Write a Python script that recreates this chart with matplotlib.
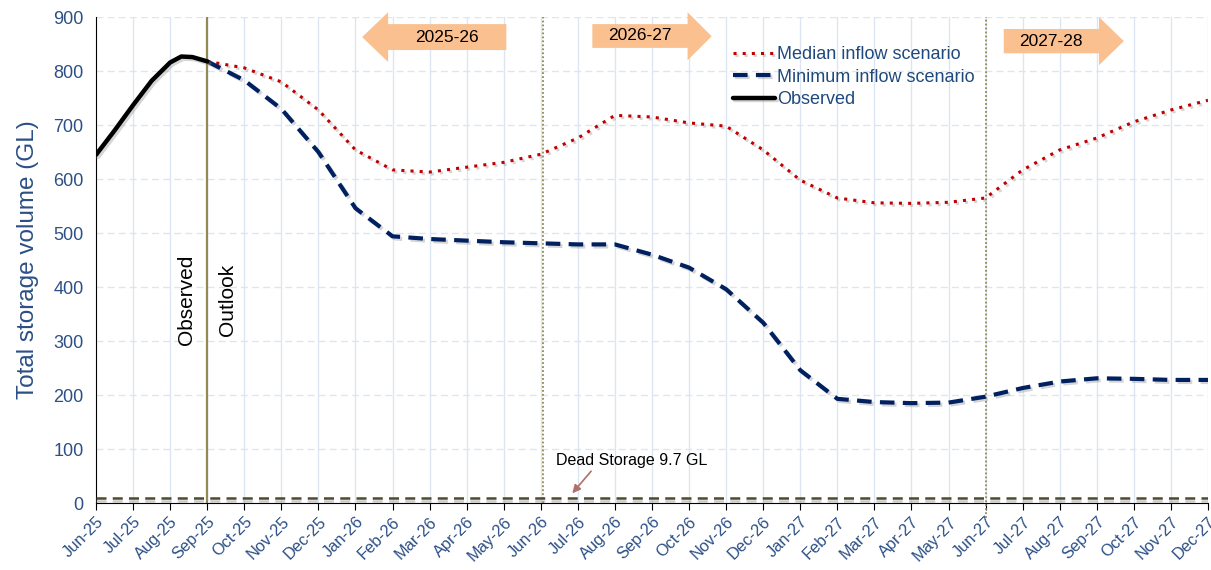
import matplotlib.pyplot as plt
import matplotlib.patheffects as pe
from matplotlib.patches import Polygon
import numpy as np

plt.rcParams['font.family'] = ['Liberation Sans', 'DejaVu Sans']

# month labels, Jun-25 .. Dec-27
months = ["Jun-25", "Jul-25", "Aug-25", "Sep-25", "Oct-25", "Nov-25", "Dec-25",
          "Jan-26", "Feb-26", "Mar-26", "Apr-26", "May-26", "Jun-26", "Jul-26",
          "Aug-26", "Sep-26", "Oct-26", "Nov-26", "Dec-26", "Jan-27", "Feb-27",
          "Mar-27", "Apr-27", "May-27", "Jun-27", "Jul-27", "Aug-27", "Sep-27",
          "Oct-27", "Nov-27", "Dec-27"]

# observed storage (month index, GL)
obs_x = [0, 0.5, 1, 1.5, 2, 2.3, 2.6, 3]
obs_y = [645, 690, 737, 782, 816, 827, 826, 818]

# outlook scenarios, monthly from Sep-25
scen_x = list(range(3, 31))
median_y = [818, 806, 780, 728, 654, 617, 613, 622, 631, 646, 676, 718, 715,
            704, 698, 654, 598, 565, 556, 555, 557, 565, 617, 654, 676, 706,
            728, 746]
minimum_y = [818, 783, 730, 650, 546, 494, 489, 486, 483, 481, 479, 479, 460,
             436, 396, 334, 246, 193, 187, 185, 186, 197, 213, 225, 231, 230,
             228, 228]

dead_storage = 9.7
season_lines = [3, 12.05, 24]

blue = "#2B4F86"
olive = "#938953"

fig = plt.figure(figsize=(12.11, 5.70), dpi=100)
ax = fig.add_axes([0.0793, 0.1175, 0.9182, 0.8525])

# grid
for i in range(1, len(months)):
    ax.axvline(i, color="#DCE6F2", lw=1, zorder=0)
for v in range(100, 901, 100):
    ax.axhline(v, color="#DCE6F2", lw=1, ls=(0, (5, 3)), zorder=0)

# season separators
ax.axvline(season_lines[0], color=olive, lw=1.6, zorder=2)
ax.axvline(season_lines[1], color=olive, lw=1.3, ls=(0, (1, 1.2)), zorder=2)
ax.axvline(season_lines[2], color=olive, lw=1.3, ls=(0, (1, 1.2)), zorder=2, clip_on=False,
           ymin=-0.03)

# dead storage
ax.axhline(dead_storage, color="#4F4A2A", lw=1.8, ls=(0, (4, 2.5)), zorder=3,
           path_effects=[pe.SimpleLineShadow(offset=(0, -2.5), shadow_color="#999999", alpha=0.5),
                         pe.Normal()])
ax.annotate("Dead Storage 9.7 GL", xy=(12.85, 18), xytext=(12.4, 78),
            fontsize=11.5, color="black", va="center", ha="left",
            arrowprops=dict(arrowstyle="-|>", color="#B0706B", lw=1.2,
                            shrinkA=0, shrinkB=0, mutation_scale=12,
                            relpos=(0.25, 0)))

shadow = [pe.SimpleLineShadow(offset=(1.5, -1.5), shadow_color="#888888", alpha=0.35), pe.Normal()]
l1, = ax.plot(scen_x, median_y, color="#C00000", lw=2.2, ls=(0, (1, 2)),
              label="Median inflow scenario", zorder=4, path_effects=shadow)
l2, = ax.plot(scen_x, minimum_y, color="#002060", lw=3, ls=(0, (3.5, 2)),
              label="Minimum inflow scenario", zorder=4, path_effects=shadow)
l3, = ax.plot(obs_x, obs_y, color="black", lw=3.2, label="Observed", zorder=5,
              solid_capstyle="round", solid_joinstyle="round", path_effects=shadow)

ax.text(2.45, 376, "Observed", rotation=90, fontsize=15, ha="center", va="center")
ax.text(3.55, 376, "Outlook", rotation=90, fontsize=15, ha="center", va="center")

# water year arrows
arrow_fill = "#FAC090"
def season_arrow(left, right, tip, head_top, head_bot, body_top, body_bot, label, point_left):
    if point_left:
        pts = [(tip, (head_top + head_bot) / 2), (left, head_top), (left, body_top),
               (right, body_top), (right, body_bot), (left, body_bot), (left, head_bot)]
    else:
        pts = [(left, body_top), (right, body_top), (right, head_top),
               (tip, (head_top + head_bot) / 2), (right, head_bot), (right, body_bot),
               (left, body_bot)]
    cx = (left + right) / 2
    ax.add_patch(Polygon(pts, closed=True, facecolor=arrow_fill, edgecolor="none",
                         clip_on=False, zorder=3))
    ax.text(cx, (body_top + body_bot) / 2, label, fontsize=12.5, ha="center", va="center", zorder=4)

season_arrow(7.88, 11.07, 7.18, 909, 817, 887, 839, "2025-26", True)
season_arrow(13.39, 15.96, 16.61, 909, 820, 887, 843, "2026-27", False)
season_arrow(24.49, 27.06, 27.73, 900, 811, 878, 833, "2027-28", False)

leg = ax.legend(handles=[l1, l2, l3], loc="upper left", bbox_to_anchor=(0.573, 0.94),
                frameon=False, fontsize=13, handlelength=2.3, handletextpad=0.15,
                labelspacing=0.3, borderpad=0, borderaxespad=0)
for t in leg.get_texts():
    t.set_color("#1F497D")

ax.set_xlim(0, len(months) - 1)
ax.set_ylim(0, 900)
ax.set_xticks(range(len(months)))
ax.set_xticklabels(months, rotation=45, ha="right", rotation_mode="anchor",
                   fontsize=11.8, color=blue)
ax.set_yticks(range(0, 901, 100))
ax.tick_params(axis="y", length=0, labelsize=13, labelcolor=blue, pad=9)
ax.tick_params(axis="x", direction="out", length=5, color="black", pad=3)
ax.set_ylabel("Total storage volume (GL)", fontsize=17.5, color=blue, labelpad=10)

for s in ["top", "right"]:
    ax.spines[s].set_visible(False)
ax.spines["left"].set_color("black")
ax.spines["bottom"].set_color("black")

fig.savefig("out.png", dpi=100)
